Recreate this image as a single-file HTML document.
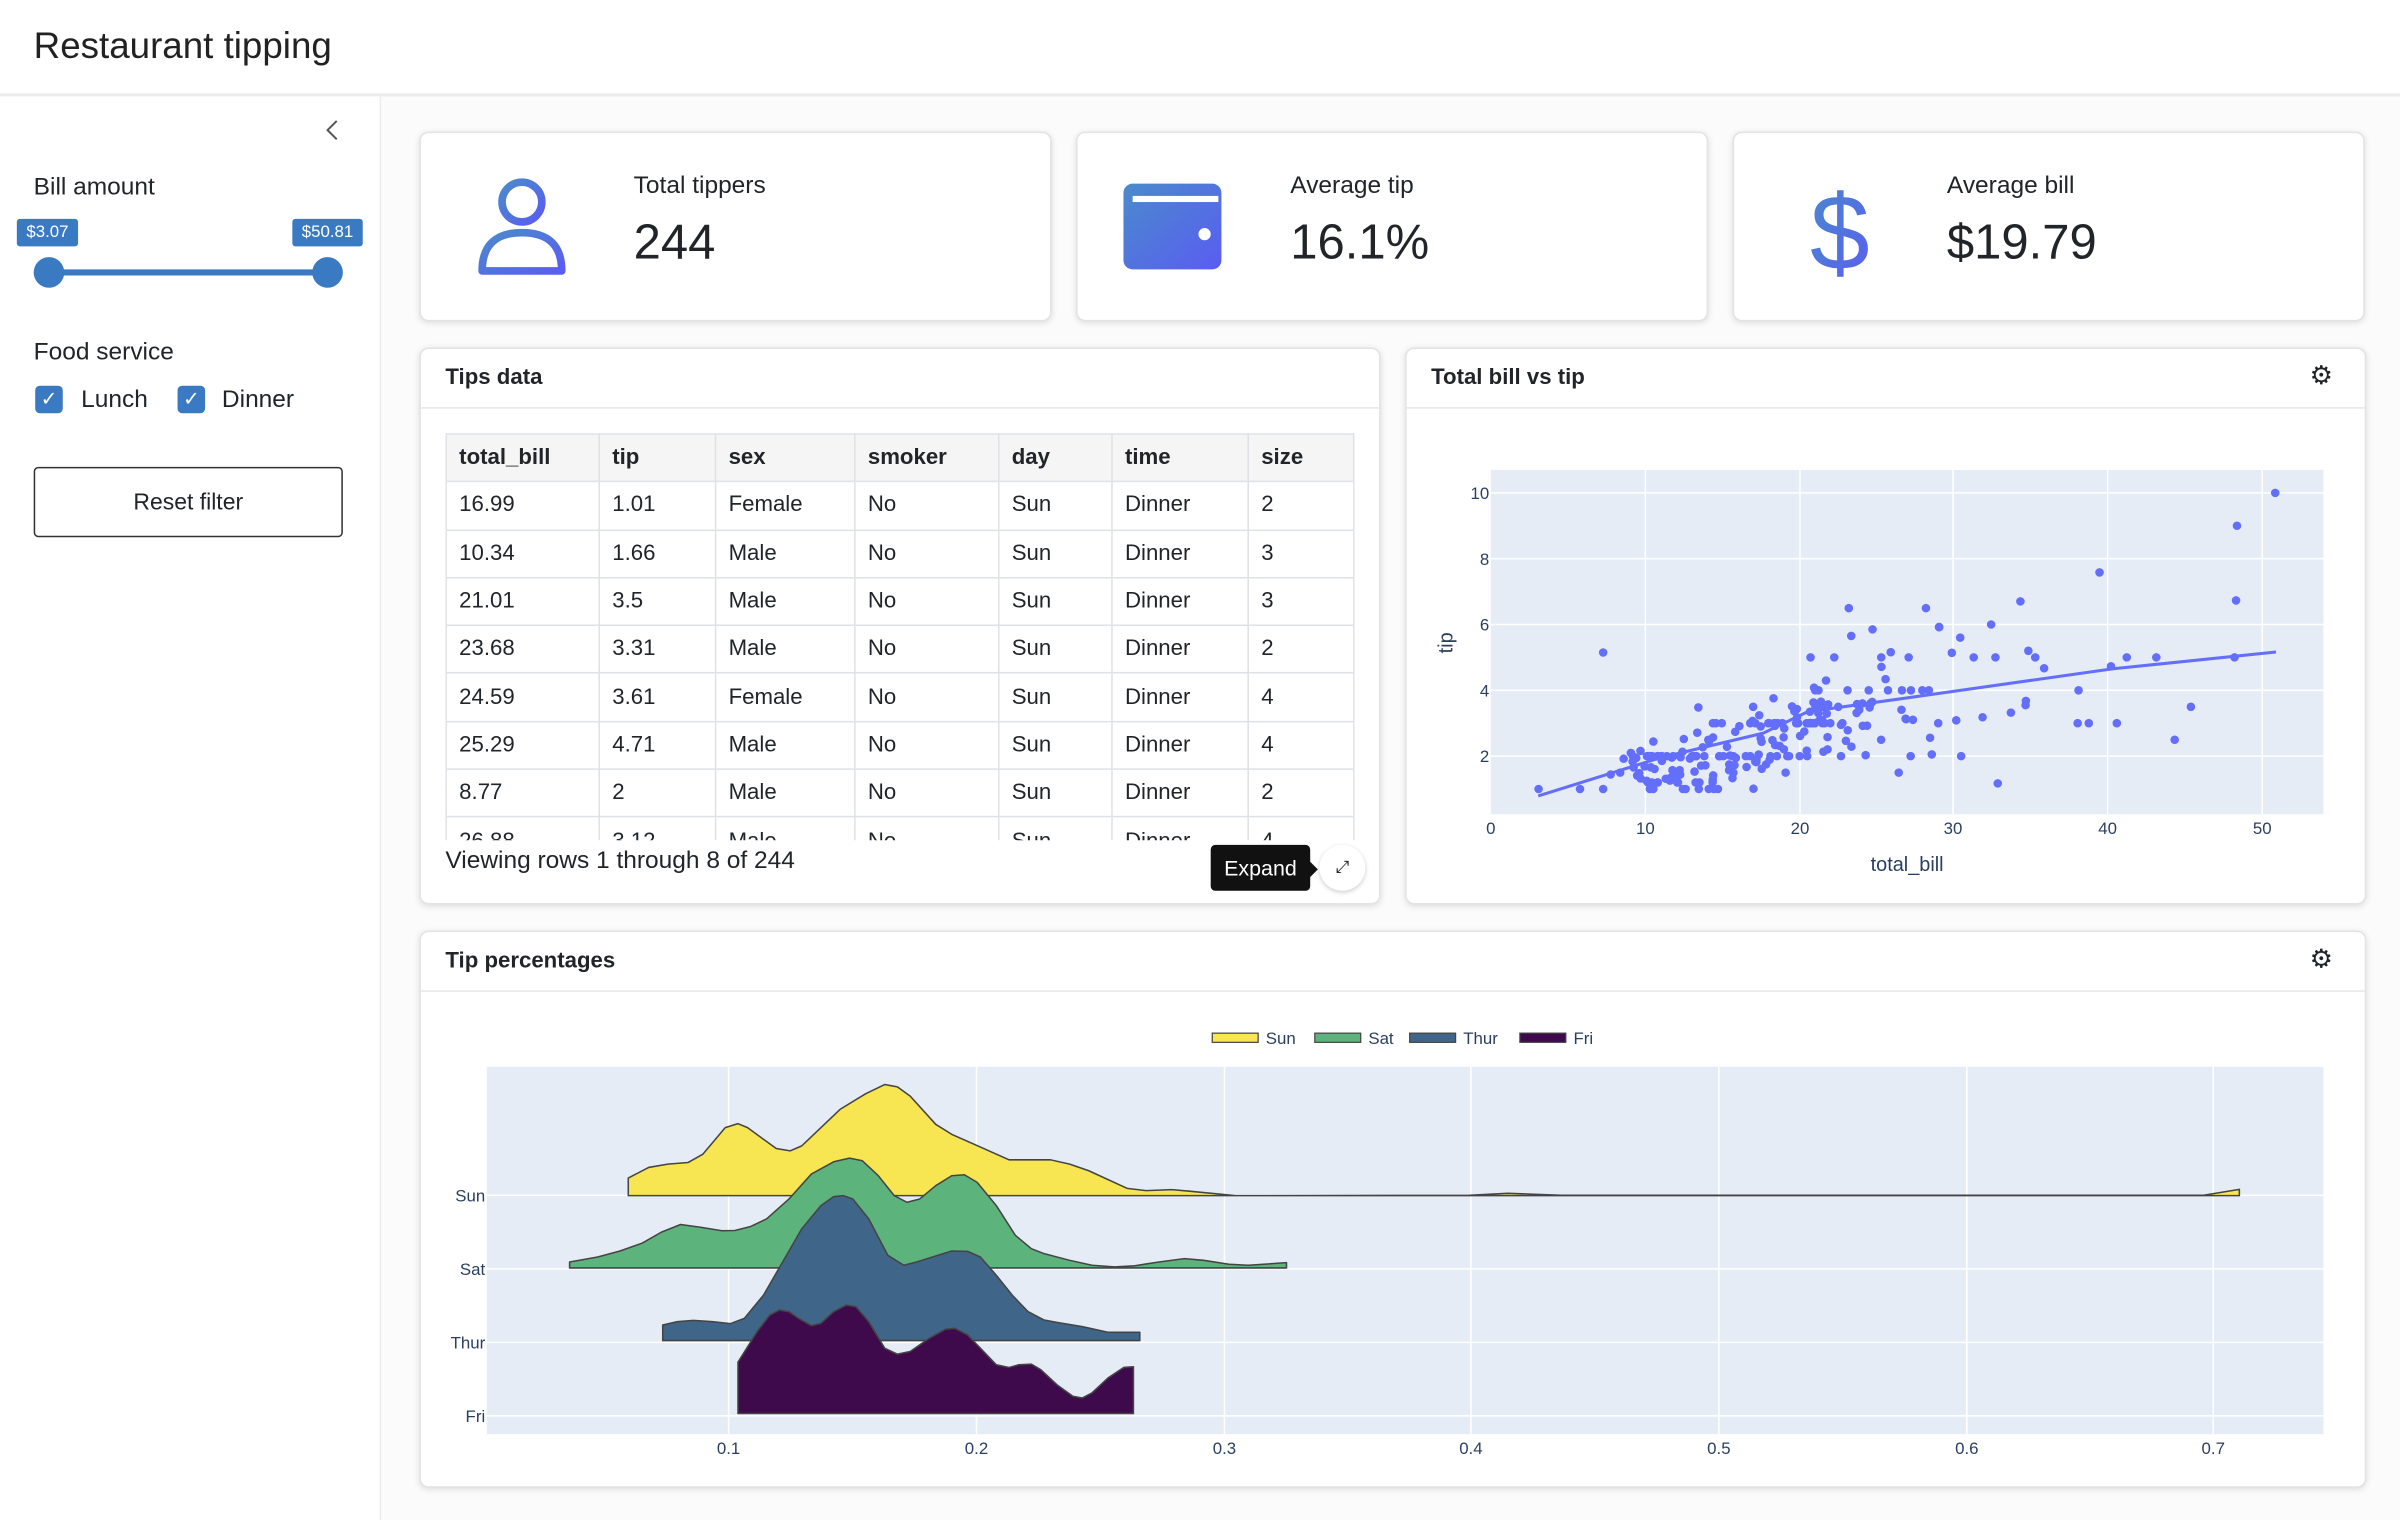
<!DOCTYPE html>
<html><head><meta charset="utf-8">
<style>
html,body{margin:0;padding:0;width:2400px;height:1520px;overflow:hidden;background:#fff;}
#root{position:absolute;left:0;top:0;width:1568px;height:993px;transform:scale(1.5306);transform-origin:0 0;font-family:"Liberation Sans",sans-serif;color:#212529;background:#fbfbfb;}
.abs{position:absolute;}
.card{position:absolute;background:#fff;border:1px solid #e3e3e3;border-radius:6px;box-shadow:0 1px 4px rgba(0,0,0,0.12);}
.hdr{position:absolute;left:0;right:0;top:0;height:38px;border-bottom:1px solid #e6e6e6;}
.hdr span{position:absolute;left:16px;top:11px;font-size:14.5px;font-weight:bold;}
table{border-collapse:collapse;font-size:14.5px;}
td,th{border:1px solid #dee2e6;height:30.3px;padding:0 8px;text-align:left;font-weight:normal;}
th{background:#f5f5f5;font-weight:bold;}
.cb{position:absolute;width:18px;height:18px;background:#3a7ac2;border-radius:3px;color:#fff;font-size:13px;text-align:center;line-height:18px;}
.tk{font-size:11px;fill:#2a3f5f;font-family:"Liberation Sans",sans-serif;}
</style></head><body><div id="root">
<div class="abs" style="left:0;top:0;width:1568px;height:61px;background:#fff;border-bottom:2px solid #ececec;"></div>
<div class="abs" style="left:22px;top:17px;font-size:24px;color:#222;">Restaurant tipping</div>
<div class="abs" style="left:0;top:63px;width:248px;height:930px;background:#fff;border-right:1px solid #ececec;"></div>
<svg class="abs" style="left:210px;top:77px" width="14" height="16"><path d="M10 2 L4 8 L10 14" fill="none" stroke="#555" stroke-width="1.3"/></svg>
<div class="abs" style="left:22px;top:114px;font-size:16px;">Bill amount</div>
<div class="abs" style="left:11px;top:143px;width:40px;height:18px;background:#3a7ac2;border-radius:2px;color:#fff;font-size:11px;text-align:center;line-height:18px;">$3.07</div>
<div class="abs" style="left:191px;top:143px;width:46px;height:18px;background:#3a7ac2;border-radius:2px;color:#fff;font-size:11px;text-align:center;line-height:18px;">$50.81</div>
<div class="abs" style="left:32px;top:176px;width:182px;height:4px;background:#3a7ac2;"></div>
<div class="abs" style="left:22px;top:168px;width:20px;height:20px;border-radius:50%;background:#3a7ac2;"></div>
<div class="abs" style="left:204px;top:168px;width:20px;height:20px;border-radius:50%;background:#3a7ac2;"></div>
<div class="abs" style="left:22px;top:222px;font-size:16px;">Food service</div>
<div class="cb" style="left:23px;top:252px;">✓</div><div class="abs" style="left:53px;top:253px;font-size:16px;">Lunch</div>
<div class="cb" style="left:116px;top:252px;">✓</div><div class="abs" style="left:145px;top:253px;font-size:16px;">Dinner</div>
<div class="abs" style="left:22px;top:305px;width:200px;height:44px;border:1px solid #333;border-radius:3px;background:#fff;font-size:15px;text-align:center;line-height:46px;">Reset filter</div>
<div class="card" style="left:274px;top:86px;width:411px;height:122px;"></div>
<div class="card" style="left:703px;top:86px;width:411px;height:122px;"></div>
<div class="card" style="left:1132px;top:86px;width:411px;height:122px;"></div>
<svg class="abs" style="left:300px;top:110px" width="1260" height="80">
<defs><linearGradient id="g" x1="0" y1="0" x2="1" y2="1"><stop offset="0" stop-color="#4a8bcb"/><stop offset="1" stop-color="#5a5cf2"/></linearGradient></defs>
<circle cx="41" cy="22" r="13" fill="none" stroke="url(#g)" stroke-width="5"/>
<path d="M15 67 Q15 42 41 42 Q67 42 67 67 Z" fill="none" stroke="url(#g)" stroke-width="5" stroke-linejoin="round"/>
<rect x="434" y="10" width="64" height="56" rx="6" fill="url(#g)"/>
<rect x="440" y="18" width="56" height="4" fill="#fff"/>
<ellipse cx="487" cy="43" rx="4" ry="4" fill="#fff"/>
<text x="902" y="66" font-size="70" fill="url(#g)" font-family="Liberation Sans" text-anchor="middle">$</text>
</svg>
<div class="abs" style="left:414px;top:113px;font-size:16px;">Total tippers</div>
<div class="abs" style="left:414px;top:140px;font-size:32px;">244</div>
<div class="abs" style="left:843px;top:113px;font-size:16px;">Average tip</div>
<div class="abs" style="left:843px;top:140px;font-size:32px;">16.1%</div>
<div class="abs" style="left:1272px;top:113px;font-size:16px;">Average bill</div>
<div class="abs" style="left:1272px;top:140px;font-size:32px;">$19.79</div>
<div class="card" style="left:274px;top:227px;width:626px;height:362px;overflow:hidden;">
<div class="hdr"><span>Tips data</span></div>
<div class="abs" style="left:16px;top:55px;width:594px;height:266px;overflow:hidden;">
<table style="width:594px;">
<tr><th style="width:83px">total_bill</th><th style="width:59px">tip</th><th style="width:74px">sex</th><th style="width:77px">smoker</th><th style="width:57px">day</th><th style="width:72px">time</th><th>size</th></tr>
<tr><td>16.99</td><td>1.01</td><td>Female</td><td>No</td><td>Sun</td><td>Dinner</td><td>2</td></tr>
<tr><td>10.34</td><td>1.66</td><td>Male</td><td>No</td><td>Sun</td><td>Dinner</td><td>3</td></tr>
<tr><td>21.01</td><td>3.5</td><td>Male</td><td>No</td><td>Sun</td><td>Dinner</td><td>3</td></tr>
<tr><td>23.68</td><td>3.31</td><td>Male</td><td>No</td><td>Sun</td><td>Dinner</td><td>2</td></tr>
<tr><td>24.59</td><td>3.61</td><td>Female</td><td>No</td><td>Sun</td><td>Dinner</td><td>4</td></tr>
<tr><td>25.29</td><td>4.71</td><td>Male</td><td>No</td><td>Sun</td><td>Dinner</td><td>4</td></tr>
<tr><td>8.77</td><td>2</td><td>Male</td><td>No</td><td>Sun</td><td>Dinner</td><td>2</td></tr>
<tr><td>26.88</td><td>3.12</td><td>Male</td><td>No</td><td>Sun</td><td>Dinner</td><td>4</td></tr>
</table></div>
<div class="abs" style="left:16px;top:326px;font-size:16px;">Viewing rows 1 through 8 of 244</div>
<div class="abs" style="left:516px;top:324px;width:65px;height:30px;background:#111;border-radius:3px;color:#fff;font-size:14px;text-align:center;line-height:30px;">Expand</div>
<div class="abs" style="left:580px;top:334px;width:0;height:0;border-top:6px solid transparent;border-bottom:6px solid transparent;border-left:6px solid #111;"></div>
<div class="abs" style="left:587px;top:324px;width:30px;height:30px;border-radius:50%;background:#fff;box-shadow:0 1px 3px rgba(0,0,0,0.2);font-size:11px;text-align:center;line-height:30px;">⤢</div>
</div>
<div class="card" style="left:918px;top:227px;width:626px;height:362px;">
<div class="hdr"><span>Total bill vs tip</span></div>
<div class="abs" style="left:590px;top:8px;font-size:17px;">⚙</div>
</div>
<svg class="abs" style="left:0;top:0" width="1568" height="993" id="sc">
<rect x="974" y="307" width="544" height="225" fill="#e5ecf6"/>
<g stroke="#fff" stroke-width="1">
<line x1="1075" y1="307" x2="1075" y2="532"/><line x1="1176" y1="307" x2="1176" y2="532"/><line x1="1276" y1="307" x2="1276" y2="532"/><line x1="1377" y1="307" x2="1377" y2="532"/><line x1="1478" y1="307" x2="1478" y2="532"/>
<line x1="974" y1="494" x2="1518" y2="494"/><line x1="974" y1="451" x2="1518" y2="451"/><line x1="974" y1="408" x2="1518" y2="408"/><line x1="974" y1="365" x2="1518" y2="365"/><line x1="974" y1="322" x2="1518" y2="322"/>
</g>
<g class="tk" text-anchor="middle">
<text x="974" y="545">0</text><text x="1075" y="545">10</text><text x="1176" y="545">20</text><text x="1276" y="545">30</text><text x="1377" y="545">40</text><text x="1478" y="545">50</text>
</g>
<g class="tk" text-anchor="end">
<text x="973" y="498">2</text><text x="973" y="455">4</text><text x="973" y="412">6</text><text x="973" y="369">8</text><text x="973" y="326">10</text>
</g>
<text x="1246" y="569" text-anchor="middle" font-size="13" fill="#2a3f5f" font-family="Liberation Sans">total_bill</text>
<text transform="translate(949,420) rotate(-90)" text-anchor="middle" font-size="13" fill="#2a3f5f" font-family="Liberation Sans">tip</text>
<g id="pts" fill="#636efa"></g>
<polyline points="1005,520 1085,495 1152,479 1181,465 1260,454 1380,437 1487,426" fill="none" stroke="#636efa" stroke-width="2"/>
</svg>
<div class="card" style="left:274px;top:608px;width:1270px;height:362px;">
<div class="hdr"><span>Tip percentages</span></div>
<div class="abs" style="left:1234px;top:8px;font-size:17px;">⚙</div>
</div>
<svg class="abs" style="left:0;top:0" width="1568" height="993">
<rect x="318" y="697" width="1200" height="240" fill="#e5ecf6"/>
<g stroke="#fff" stroke-width="1">
<line x1="476" y1="697" x2="476" y2="937"/><line x1="638" y1="697" x2="638" y2="937"/><line x1="800" y1="697" x2="800" y2="937"/><line x1="961" y1="697" x2="961" y2="937"/><line x1="1123" y1="697" x2="1123" y2="937"/><line x1="1285" y1="697" x2="1285" y2="937"/><line x1="1446" y1="697" x2="1446" y2="937"/>
<line x1="318" y1="781" x2="1518" y2="781"/><line x1="318" y1="829" x2="1518" y2="829"/><line x1="318" y1="877" x2="1518" y2="877"/><line x1="318" y1="925" x2="1518" y2="925"/>
</g>
<g class="tk" text-anchor="middle">
<text x="476" y="950">0.1</text><text x="638" y="950">0.2</text><text x="800" y="950">0.3</text><text x="961" y="950">0.4</text><text x="1123" y="950">0.5</text><text x="1285" y="950">0.6</text><text x="1446" y="950">0.7</text>
</g>
<g class="tk" text-anchor="end">
<text x="317" y="785">Sun</text><text x="317" y="833">Sat</text><text x="317" y="881">Thur</text><text x="317" y="929">Fri</text>
</g>
<g transform="translate(261.3,653.3) scale(0.4167,0.2167)" stroke="#444" stroke-width="1" stroke-linejoin="round">
<path vector-effect="non-scaling-stroke" fill="#f8e552" d="M358,590 L358,537 L390,505 L420,495 L452,490 L475,465 L510,385 L530,373 L545,385 L590,448 L612,455 L630,440 L690,330 L730,283 L760,255 L780,262 L800,290 L840,375 L865,405 L900,435 L955,482 L1020,482 L1050,495 L1080,515 L1140,568 L1170,575 L1210,572 L1240,577 L1310,590 L1677,589 L1737,583 L1821,589 L2828,589 L2884,571 L2884,590 Z"/>
<path vector-effect="non-scaling-stroke" fill="#5db37c" d="M266,808 L266,790 L310,775 L345,757 L380,733 L410,700 L440,677 L470,685 L505,696 L525,695 L550,683 L575,660 L610,600 L645,525 L680,488 L705,477 L725,485 L750,530 L775,590 L795,610 L815,600 L840,560 L865,530 L885,527 L905,550 L935,620 L965,710 L990,750 L1010,765 L1050,785 L1085,800 L1120,805 L1150,802 L1190,790 L1230,780 L1260,785 L1300,797 L1330,800 L1390,792 L1390,808 Z"/>
<path vector-effect="non-scaling-stroke" fill="#3f6589" d="M412,1027 L412,980 L435,970 L460,966 L490,970 L518,976 L540,960 L570,890 L600,790 L630,690 L660,620 L680,593 L695,590 L710,600 L735,660 L765,770 L790,800 L810,790 L840,772 L865,757 L890,758 L910,775 L935,830 L960,890 L985,940 L1010,965 L1030,972 L1070,985 L1110,1002 L1160,1002 L1160,1027 Z"/>
<path vector-effect="non-scaling-stroke" fill="#3e0a4c" d="M530,1247 L530,1092 L560,1000 L580,950 L595,935 L610,940 L625,960 L645,982 L660,975 L680,940 L700,920 L715,925 L735,970 L760,1050 L780,1068 L800,1060 L830,1020 L855,993 L870,990 L890,1010 L910,1050 L935,1100 L955,1108 L970,1100 L990,1098 L1005,1115 L1030,1160 L1055,1195 L1070,1200 L1085,1185 L1110,1140 L1135,1108 L1150,1106 L1150,1247 Z"/>
</g>
<g stroke="#444" stroke-width="0.8">
<rect x="792" y="675" width="30" height="6" fill="#f8e552"/><rect x="859" y="675" width="30" height="6" fill="#5db37c"/><rect x="921" y="675" width="30" height="6" fill="#3f6589"/><rect x="993" y="675" width="30" height="6" fill="#3e0a4c"/>
</g>
<g class="tk" font-size="12">
<text x="827" y="682">Sun</text><text x="894" y="682">Sat</text><text x="956" y="682">Thur</text><text x="1028" y="682">Fri</text>
</g>
</svg>
<script>
(function(){
var g=document.getElementById('pts');var s=12345;function r(){s=(s*16807)%2147483647;return s/2147483647;}
function add(b,t){var c=document.createElementNS('http://www.w3.org/2000/svg','circle');c.setAttribute('cx',(974.3+b*10.08).toFixed(1));c.setAttribute('cy',(537-t*21.5).toFixed(1));c.setAttribute('r','2.8');g.appendChild(c);}
var fixed=[[50.81,10],[48.33,9],[39.42,7.58],[48.27,6.73],[48.17,5],[34.3,6.7],[23.33,5.65],[28.17,6.5],[23.17,6.5],[32.4,6],[29.03,5.92],[24.71,5.85],[30.4,5.6],[7.25,5.15],[7.25,1],[3.07,1],[5.75,1],[12.6,1],[32.83,1.17],[26.41,1.5],[44.3,2.5],[45.35,3.5],[40.55,3],[38.07,4],[38.73,3],[38.01,3],[43.11,5],[41.19,5],[40.17,4.73],[34.81,5.2],[35.26,5],[35.83,4.67],[31.85,3.18],[32.68,5],[31.27,5],[30.46,2],[29.85,5.14],[34.65,3.68],[34.63,3.55],[28.44,2.56],[28.55,2.05],[27.18,2],[27.2,4],[25.89,5.16],[25.28,5],[25.56,4.34],[25.71,4],[20.69,5],[22.23,5],[18.29,3.76],[9.55,1.45],[8.58,1.92],[10.07,1.25],[15.69,1.5],[15.42,1.57],[16.97,3.5],[18.43,3],[19.49,3.51],[20.65,3.35],[22.49,3.5],[24.06,3.6],[26.59,3.41],[30.14,3.09],[29.03,5.92],[27.05,5],[33.68,3.32],[11.38,2],[13.42,3.48],[14.07,2.5],[20.29,2.75],[21.7,4.3],[17.82,1.75],[18.69,2.31],[19.08,1.5],[24.27,2.03],[24.52,3.48],[23.1,4],[20.92,4.08],[21.01,3.5],[10.34,1.66],[12.48,2.52],[16.99,1.01],[22.67,2],[24.08,2.92],[26.86,3.14],[21.5,3.5],[28.97,3],[20.45,3],[15.48,2.02],[13.81,2],[7.74,1.44],[8.35,1.5],[9.68,1.32],[10.59,1.61],[13.13,2],[16.93,3.07],[17.46,2.54],[19.82,3.18],[22.76,3],[26.88,3.12],[25.29,4.71],[24.59,3.61],[23.68,3.31]];
fixed.forEach(function(p){add(p[0],p[1]);});
for(var i=0;i<150;i++){var b=9+r()*13+ (r()<0.3?r()*8:0);var t=0.3+b*0.12+(r()-0.5)*1.8;t=Math.max(1.2,t);if(r()<0.35)t=Math.round(t);add(b,t);}
})();
</script>
</div></body></html>
